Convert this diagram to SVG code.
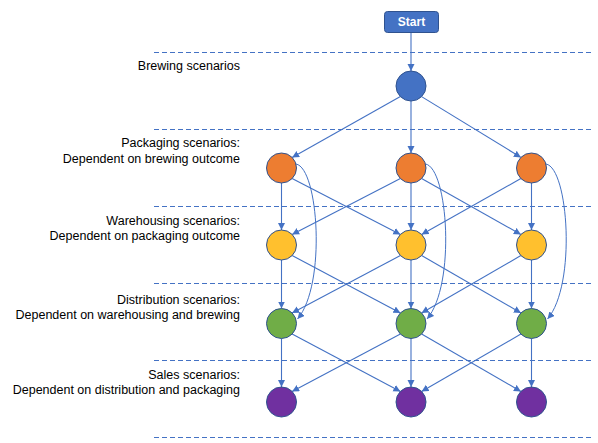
<svg xmlns="http://www.w3.org/2000/svg" width="598" height="443" viewBox="0 0 598 443">
<style>
.lbl{font-family:"Liberation Sans",Arial,sans-serif;font-size:12.5px;fill:#000;text-anchor:end}
.dash{stroke:#4472C4;stroke-width:1;stroke-dasharray:5 3;fill:none}
.c{stroke:#4472C4;stroke-width:1.1;fill:none;marker-end:url(#ah)}
.cv{stroke:#4472C4;stroke-width:1;fill:none;marker-end:url(#ah)}
.n{stroke:#2F528F;stroke-width:1}
</style>
<defs>
<marker id="ah" markerUnits="userSpaceOnUse" markerWidth="8" markerHeight="8" refX="7" refY="3.5" orient="auto">
<path d="M0,0 L7,3.5 L0,7 z" fill="#4472C4"/>
</marker>
</defs>
<rect width="598" height="443" fill="#fff"/>
<g id="separators">
<line class="dash" x1="154" y1="52.5" x2="593" y2="52.5"/>
<line class="dash" x1="154" y1="129.5" x2="593" y2="129.5"/>
<line class="dash" x1="154" y1="206.5" x2="593" y2="206.5"/>
<line class="dash" x1="154" y1="283.5" x2="593" y2="283.5"/>
<line class="dash" x1="154" y1="360.5" x2="593" y2="360.5"/>
<line class="dash" x1="154" y1="437.5" x2="593" y2="437.5"/>
</g>
<g id="labels">
<text class="lbl" x="240" y="70">Brewing scenarios</text>
<text class="lbl" x="240" y="147">Packaging scenarios:</text>
<text class="lbl" x="240" y="163">Dependent on brewing outcome</text>
<text class="lbl" x="240" y="224.5">Warehousing scenarios:</text>
<text class="lbl" x="240" y="240">Dependent on packaging outcome</text>
<text class="lbl" x="240" y="304">Distribution scenarios:</text>
<text class="lbl" x="240" y="319">Dependent on warehousing and brewing</text>
<text class="lbl" x="240" y="378.5">Sales scenarios:</text>
<text class="lbl" x="240" y="394">Dependent on distribution and packaging</text>
</g>
<g id="connectors">
<line class="c" x1="411" y1="32.5" x2="411" y2="71"/>
<line class="c" x1="411" y1="101" x2="411" y2="153"/>
<line class="c" x1="400.4" y1="96.6" x2="292.1" y2="157.4"/>
<line class="c" x1="421.6" y1="96.6" x2="520.9" y2="157.4"/>
<!-- orange to yellow -->
<line class="c" x1="281.5" y1="183" x2="281.5" y2="230"/>
<line class="c" x1="411" y1="183" x2="411" y2="230"/>
<line class="c" x1="531.5" y1="183" x2="531.5" y2="230"/>
<line class="c" x1="292.1" y1="178.6" x2="400.4" y2="234.4"/>
<line class="c" x1="400.4" y1="178.6" x2="292.1" y2="234.4"/>
<line class="c" x1="421.6" y1="178.6" x2="520.9" y2="234.4"/>
<line class="c" x1="520.9" y1="178.6" x2="421.6" y2="234.4"/>
<!-- yellow to green -->
<line class="c" x1="281.5" y1="260" x2="281.5" y2="308.5"/>
<line class="c" x1="411" y1="260" x2="411" y2="308.5"/>
<line class="c" x1="531.5" y1="260" x2="531.5" y2="308.5"/>
<line class="c" x1="292.1" y1="255.6" x2="400.4" y2="312.9"/>
<line class="c" x1="400.4" y1="255.6" x2="292.1" y2="312.9"/>
<line class="c" x1="421.6" y1="255.6" x2="520.9" y2="312.9"/>
<line class="c" x1="520.9" y1="255.6" x2="421.6" y2="312.9"/>
<!-- green to purple -->
<line class="c" x1="281.5" y1="338.5" x2="281.5" y2="387"/>
<line class="c" x1="411" y1="338.5" x2="411" y2="387"/>
<line class="c" x1="531.5" y1="338.5" x2="531.5" y2="387"/>
<line class="c" x1="292.1" y1="334.1" x2="400.4" y2="391.4"/>
<line class="c" x1="400.4" y1="334.1" x2="292.1" y2="391.4"/>
<line class="c" x1="421.6" y1="334.1" x2="520.9" y2="391.4"/>
<line class="c" x1="520.9" y1="334.1" x2="421.6" y2="391.4"/>
<!-- curved orange to green -->
<path class="cv" d="M296,164 C318.5,168 326.5,285 297.5,319"/>
<path class="cv" d="M425.5,164 C448,168 456,285 427,319"/>
<path class="cv" d="M546,164 C568.5,168 576.5,285 547.5,319"/>
</g>
<g id="start">
<rect x="384.5" y="11.5" width="54" height="21" rx="3" fill="#4472C4" stroke="#2F528F" stroke-width="1"/>
<text x="411.5" y="26.3" font-family="Liberation Sans,Arial,sans-serif" font-size="12" font-weight="bold" fill="#fff" text-anchor="middle">Start</text>
</g>
<g id="brew"><circle class="n" cx="411" cy="86" r="15" fill="#4472C4"/></g>
<g id="pack1"><circle class="n" cx="281.5" cy="168" r="15" fill="#ED7D31"/></g>
<g id="pack2"><circle class="n" cx="411" cy="168" r="15" fill="#ED7D31"/></g>
<g id="pack3"><circle class="n" cx="531.5" cy="168" r="15" fill="#ED7D31"/></g>
<g id="ware1"><circle class="n" cx="281.5" cy="245" r="15" fill="#FFC02E"/></g>
<g id="ware2"><circle class="n" cx="411" cy="245" r="15" fill="#FFC02E"/></g>
<g id="ware3"><circle class="n" cx="531.5" cy="245" r="15" fill="#FFC02E"/></g>
<g id="dist1"><circle class="n" cx="281.5" cy="323.5" r="15" fill="#70AD47"/></g>
<g id="dist2"><circle class="n" cx="411" cy="323.5" r="15" fill="#70AD47"/></g>
<g id="dist3"><circle class="n" cx="531.5" cy="323.5" r="15" fill="#70AD47"/></g>
<g id="sale1"><circle class="n" cx="281.5" cy="402" r="15" fill="#7030A0"/></g>
<g id="sale2"><circle class="n" cx="411" cy="402" r="15" fill="#7030A0"/></g>
<g id="sale3"><circle class="n" cx="531.5" cy="402" r="15" fill="#7030A0"/></g>
</svg>
